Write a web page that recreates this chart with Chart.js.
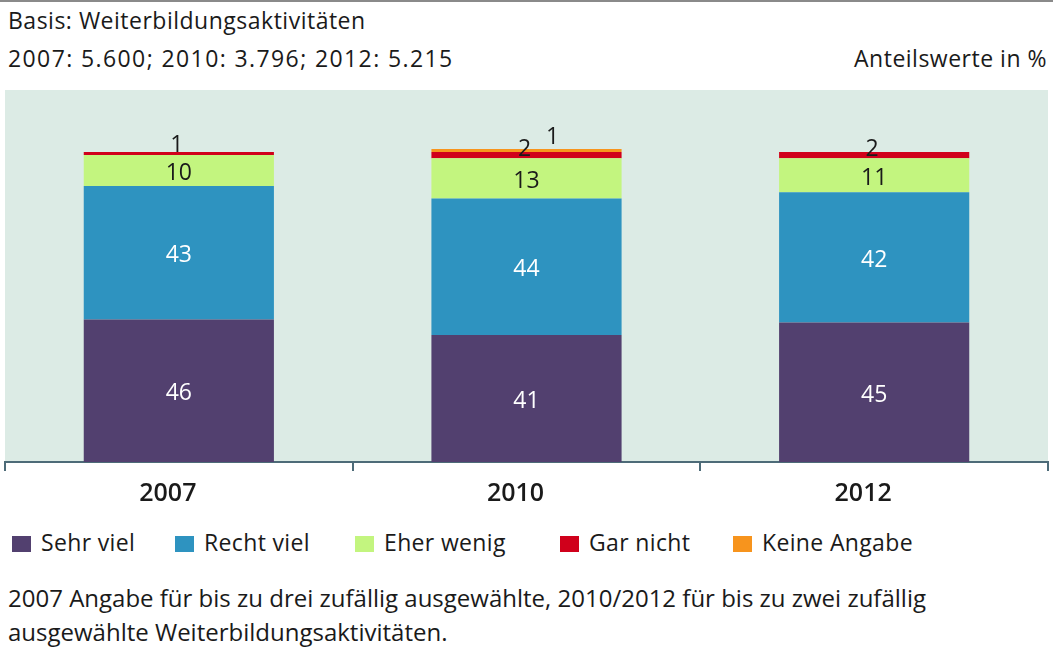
<!DOCTYPE html>
<html>
<head>
  <title>Weiterbildungsaktivitäten</title>
  <script src="https://cdn.jsdelivr.net/npm/chart.js"></script>
  <style>
    body { margin: 0; width: 1053px; height: 648px; position: relative; overflow: hidden; background: #fff;
           font-family: "Open Sans", "Noto Sans", sans-serif; color: #1a1a1a; }
    .txt { position: absolute; font-size: 23px; line-height: 30px; white-space: nowrap; }
    #chartBox { position: absolute; left: 0; top: 88px; width: 1053px; height: 420px; }
    .leg { position: absolute; top: 527px; font-size: 23px; line-height: 30px; letter-spacing: 0.35px; white-space: nowrap; }
    .leg i { display: inline-block; width: 19px; height: 16px; vertical-align: -1px; margin-right: 10px; }
    .note { position: absolute; left: 8px; font-size: 24px; line-height: 34px; white-space: nowrap; }
    .topline { position: absolute; left: 0; top: 0; width: 1053px; height: 2px; background: #8a8a8a; }
  </style>
</head>
<body>
  <div class="topline"></div>
  <div class="txt" style="left:8px; top:5px; letter-spacing:0.5px;">Basis: Weiterbildungsaktivitäten</div>
  <div class="txt" style="left:8px; top:43px; letter-spacing:1.4px;">2007: 5.600; 2010: 3.796; 2012: 5.215</div>
  <div class="txt" style="right:6px; top:43px; letter-spacing:0.5px;">Anteilswerte in %</div>
  <div id="chartBox"><canvas id="c"></canvas></div>
  <div id="legend"></div>
  <div class="note" style="top:581px;">2007 Angabe für bis zu drei zufällig ausgewählte, 2010/2012 für bis zu zwei zufällig</div>
  <div class="note" style="top:615px;">ausgewählte Weiterbildungsaktivitäten.</div>

  <script>
    const years = ["2007", "2010", "2012"];
    const seriesNames = ["Sehr viel", "Recht viel", "Eher wenig", "Gar nicht", "Keine Angabe"];
    const sehrViel = [46, 41, 45];
    const rechtViel = [43, 44, 42];
    const eherWenig = [10, 13, 11];
    const garNicht = [1, 2, 2];
    const keineAngabe = [0, 1, 0];
    const colors = ["#52406f", "#2e93c0", "#c3f57f", "#d0001b", "#f7941d"];
    const legendX = [12, 175, 355, 560, 733];

    // Legende
    document.getElementById("legend").innerHTML = seriesNames.map((n, i) =>
      `<div class="leg" style="left:${legendX[i]}px"><i style="background:${colors[i]}"></i>${n}</div>`
    ).join("");

    const bgPlugin = {
      id: "bg",
      beforeDraw(chart) {
        const a = chart.chartArea, ctx = chart.ctx;
        ctx.save();
        ctx.fillStyle = "#dcebe5";
        ctx.fillRect(a.left, a.top, a.right - a.left, a.bottom - a.top);
        ctx.restore();
      }
    };

    // Werte an die Segmente schreiben
    const labelPlugin = {
      id: "labels",
      afterDatasetsDraw(chart) {
        const ctx = chart.ctx;
        ctx.save();
        ctx.font = "23px 'Open Sans', 'Noto Sans', sans-serif";
        ctx.textAlign = "center";
        ctx.textBaseline = "middle";
        chart.data.datasets.forEach((ds, di) => {
          chart.getDatasetMeta(di).data.forEach((bar, i) => {
            const v = ds.data[i];
            if (!v) return;
            if (di <= 1) {
              ctx.fillStyle = "#fff";
              ctx.fillText(v, bar.x, (bar.y + bar.base) / 2 + 3);
            } else if (di === 2) {
              ctx.fillStyle = "#1a1a1a";
              ctx.fillText(v, bar.x, (bar.y + bar.base) / 2 + 3);
            } else if (di === 3) {
              ctx.fillStyle = "#1a1a1a";
              ctx.fillText(v, bar.x - 2, bar.y - (v === 1 ? 7 : 3));
            } else {
              ctx.fillStyle = "#1a1a1a";
              ctx.fillText(v, bar.x + 26, bar.y - 11);
            }
          });
        });
        ctx.restore();
      }
    };

    const values = [sehrViel, rechtViel, eherWenig, garNicht, keineAngabe];

    new Chart(document.getElementById("c"), {
      type: "bar",
      data: {
        labels: years,
        datasets: seriesNames.map((n, i) => ({
          label: n,
          data: values[i],
          backgroundColor: colors[i],
          borderWidth: 0,
          categoryPercentage: 1,
          barPercentage: 0.547
        }))
      },
      options: {
        responsive: true,
        maintainAspectRatio: false,
        animation: false,
        layout: { padding: { left: 5, right: 5, top: 2, bottom: 0 } },
        plugins: { legend: { display: false }, tooltip: { enabled: false } },
        scales: {
          x: {
            stacked: true,
            afterFit: s => { s.height = 46; },
            grid: { offset: true, drawOnChartArea: false, tickLength: 9, color: "#4d6b78", lineWidth: 2 },
            border: { color: "#4d6b78", width: 2 },
            ticks: { color: "#1a1a1a", padding: 8, labelOffset: -11,
                     font: { size: 25, weight: "600", family: "'Open Sans', 'Noto Sans', sans-serif" } }
          },
          y: { stacked: true, display: false, min: 0, max: 120 }
        }
      },
      plugins: [bgPlugin, labelPlugin]
    });
  </script>
</body>
</html>
